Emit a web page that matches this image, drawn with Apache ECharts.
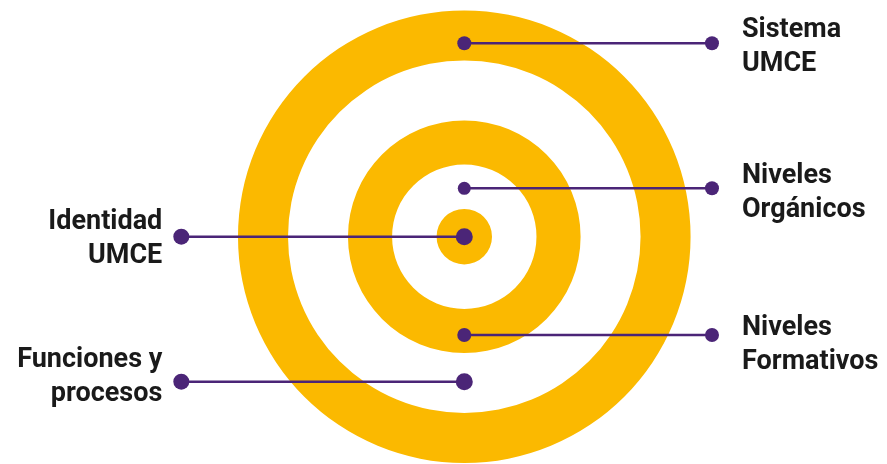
<!DOCTYPE html>
<html>
<head>
<meta charset="utf-8">
<script src="https://cdn.jsdelivr.net/npm/echarts@6/dist/echarts.min.js"></script>
<style>
html,body{margin:0;padding:0;background:#fff;}
#chart{width:887px;height:464px;}
</style>
</head>
<body>
<div id="chart"></div>
<script>
// Ring radii (outer ring = 100 units), [inner, outer]
const rings = [[77.9, 100], [31.9, 51.4], [0, 12.25]];
// Connector labels
const labels = ['Sistema\nUMCE', 'Niveles\nOrgánicos', 'Identidad\nUMCE', 'Niveles\nFormativos', 'Funciones y\nprocesos'];
// Vertical position of each connector (units from centre)
const connectorY = [85.46, 21.39, 0, -43.44, -64.07];
// Horizontal end of each connector (units from centre)
const connectorEndX = [109.46, 109.46, -125.05, 109.46, -125.05];

// layout / style (not data)
const innerDotSize = [14, 13, 17, 14, 17];
const outerDotSize = [14, 14, 16, 14, 16];
const labelOffset = [[0, 4], [0, 5], [0, 3], [0, 10], [0, -4]];
const ringColor = '#FBB900';
const purple = '#4B2577';

const chart = echarts.init(document.getElementById('chart'));

const series = [{
  type: 'custom',
  coordinateSystem: 'cartesian2d',
  z: 1,
  silent: true,
  data: rings,
  renderItem: function (params, api) {
    const c = api.coord([0, 0]);
    const r0 = api.size([api.value(0), 0])[0];
    const r = api.size([api.value(1), 0])[0];
    return {
      type: 'ring',
      shape: { cx: c[0], cy: c[1], r: r, r0: r0 },
      style: { fill: ringColor }
    };
  }
}];

labels.forEach(function (name, i) {
  const right = connectorEndX[i] > 0;
  series.push({
    type: 'line',
    z: 5,
    silent: true,
    symbol: 'circle',
    symbolSize: function (val) { return val[2]; },
    lineStyle: { color: purple, width: 2.6 },
    itemStyle: { color: purple },
    data: [
      { value: [0, connectorY[i], innerDotSize[i]] },
      {
        value: [connectorEndX[i], connectorY[i], outerDotSize[i]],
        label: {
          show: true,
          formatter: name,
          position: right ? 'right' : 'left',
          distance: right ? 23 : 11,
          align: right ? 'left' : 'right',
          offset: labelOffset[i],
          fontFamily: 'Roboto',
          fontWeight: 'bold',
          fontSize: 27,
          lineHeight: 34,
          color: '#1a1a1a'
        }
      }
    ]
  });
});

chart.setOption({
  animation: false,
  backgroundColor: '#fff',
  grid: { left: 0, top: 0, width: 887, height: 464, containLabel: false },
  xAxis: { type: 'value', min: -205.17, max: 186.8, show: false },
  yAxis: { type: 'value', min: -100.44, max: 104.6, show: false },
  series: series
});
</script>
</body>
</html>
